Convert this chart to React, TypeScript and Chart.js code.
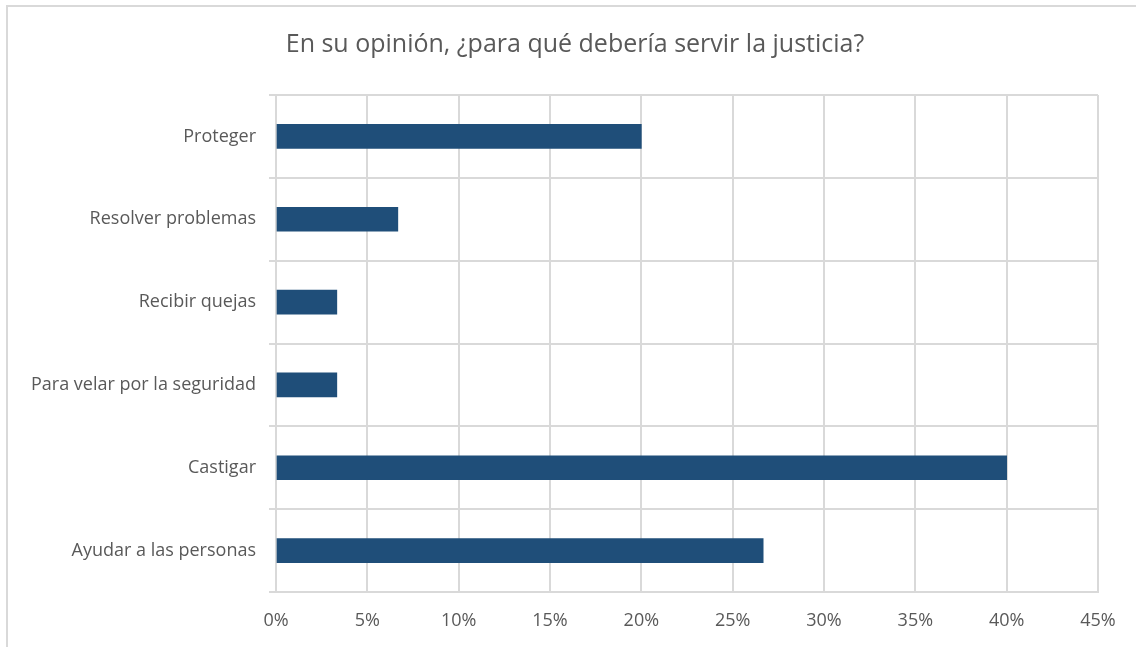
import React, { useEffect, useRef } from "react";
import { Chart, registerables } from "chart.js";

Chart.register(...registerables);

const TITLE = "En su opinión, ¿para qué debería servir la justicia?";
const categories = [
  "Proteger",
  "Resolver problemas",
  "Recibir quejas",
  "Para velar por la seguridad",
  "Castigar",
  "Ayudar a las personas",
];
const values = [20, 6.67, 3.33, 3.33, 40, 26.67];
const xMax = 45;
const xStep = 5;

const FONT = "'Open Sans', sans-serif";
const GRID = "#D9D9D9";
const TEXT = "#595959";
const BAR = "#1F4E79";

const frame = {
  id: "frame",
  afterLayout(chart: any) {
    // let the category labels extend into the left padding without clipping
    if (chart.scales.y) chart.scales.y.left = 0;
  },
  beforeDraw(chart: any) {
    const ctx = chart.ctx;
    ctx.save();
    ctx.strokeStyle = GRID;
    ctx.lineWidth = 2;
    ctx.beginPath();
    ctx.moveTo(7, 700);
    ctx.lineTo(7, 6);
    ctx.lineTo(1200, 6);
    ctx.stroke();
    ctx.restore();
  },
};

export default function App() {
  const ref = useRef<HTMLCanvasElement | null>(null);
  useEffect(() => {
    document.body.style.margin = "0";
    const chart = new Chart(ref.current as HTMLCanvasElement, {
      type: "bar",
      data: {
        labels: categories,
        datasets: [
          {
            data: values,
            backgroundColor: BAR,
            barThickness: 24,
          },
        ],
      },
      options: {
        indexAxis: "y",
        responsive: false,
        animation: false,
        layout: { padding: { left: 52, right: 38, top: 0, bottom: 0 } },
        plugins: {
          legend: { display: false },
          tooltip: { enabled: false },
          title: {
            display: true,
            text: TITLE,
            color: TEXT,
            font: { family: FONT, size: 25, weight: "normal" },
            padding: { top: 30, bottom: 35 },
          },
        },
        scales: {
          x: {
            min: 0,
            max: xMax,
            ticks: {
              stepSize: xStep,
              color: TEXT,
              font: { family: FONT, size: 18 },
              padding: 18,
              callback: (v: any) => v + "%",
            },
            grid: { color: GRID, lineWidth: 2, drawTicks: false },
            border: { color: GRID, width: 2 },
            afterFit: (s: any) => {
              s.height = 55;
            },
          },
          y: {
            ticks: {
              color: TEXT,
              font: { family: FONT, size: 18 },
              padding: 13,
            },
            grid: { color: GRID, lineWidth: 2, offset: true, tickLength: 7 },
            border: { color: GRID, width: 2 },
            afterFit: (s: any) => {
              s.width = 224;
            },
          },
        },
      },
      plugins: [frame],
    } as any);
    return () => chart.destroy();
  }, []);
  return (
    <div style={{ position: "absolute", left: 0, top: 0, width: 1136, height: 647 }}>
      <canvas ref={ref} width={1136} height={647} />
    </div>
  );
}
